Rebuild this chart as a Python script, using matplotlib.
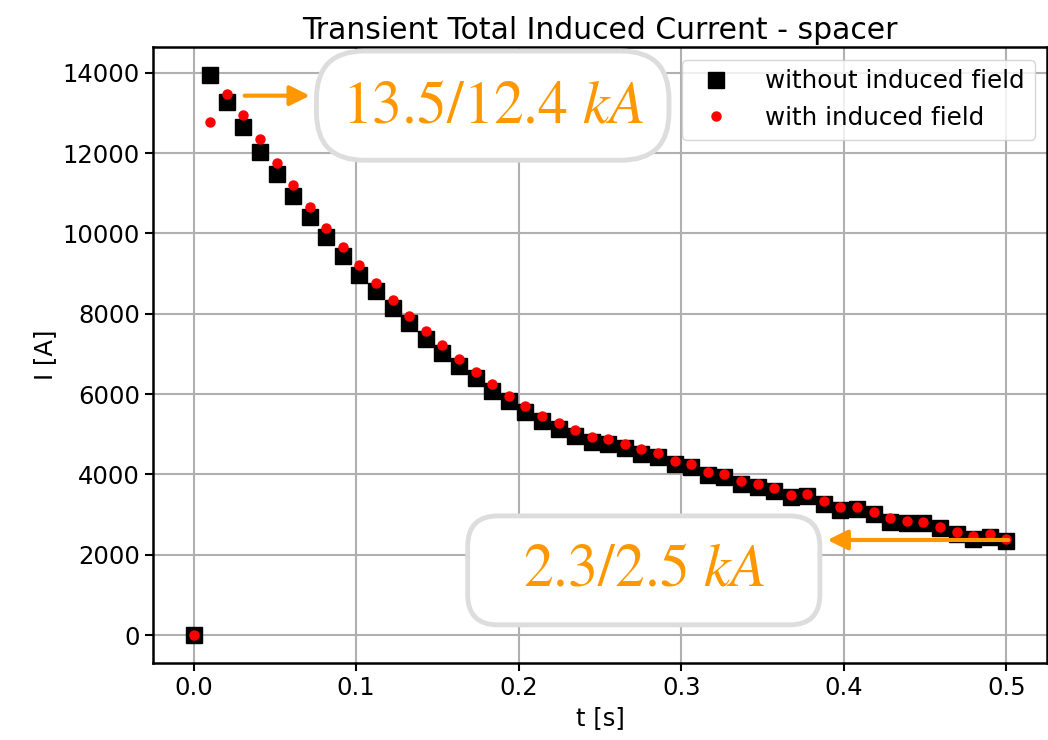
import numpy as np
import matplotlib
matplotlib.use("Agg")
import matplotlib.pyplot as plt
from matplotlib.patches import FancyBboxPatch

# time axis: 50 samples over half a second
t = np.linspace(0, 0.5, 50)

# total induced current [A], spacer model
I_without = [0, 13934, 13270, 12648, 12025, 11485, 10929, 10400, 9907, 9425,
             8976, 8553, 8139, 7765, 7374, 7025, 6709, 6390, 6087, 5838,
             5564, 5323, 5132, 4965, 4816, 4758, 4651, 4509, 4426, 4260,
             4177, 3986, 3928, 3762, 3679, 3595, 3430, 3455, 3264, 3122,
             3139, 3015, 2823, 2790, 2782, 2658, 2516, 2392, 2433, 2350]
I_with = [0, 12773, 13460, 12955, 12357, 11759, 11211, 10655, 10143, 9659,
          9218, 8769, 8340, 7955, 7578, 7225, 6860, 6560, 6253, 5963,
          5690, 5455, 5274, 5095, 4920, 4875, 4765, 4634, 4526, 4340,
          4255, 4069, 4005, 3840, 3765, 3670, 3495, 3500, 3346, 3196,
          3196, 3072, 2915, 2832, 2807, 2699, 2574, 2459, 2516, 2392]

peak_label = r"$13.5/12.4\ kA$"
end_label = r"$2.3/2.5\ kA$"

plt.rcParams["mathtext.fontset"] = "stix"
plt.rcParams["font.size"] = 17.5

orange = "#ff9800"
edge = "#dddddd"

fig = plt.figure(figsize=(10.48, 7.4), dpi=100)
ax = fig.add_axes([0.146, 0.104, 0.853, 0.832])

ax.plot(t, I_without, "ks", ms=12, label="without induced field")
ax.plot(t, I_with, "ro", ms=6.5, label="with induced field")

ax.set_title("Transient Total Induced Current - spacer", fontsize=21.5)
ax.set_xlabel("t [s]")
ax.set_ylabel("I [A]")
ax.grid(True, color="#b0b0b0", lw=1.5)
ax.set_axisbelow(True)
for s in ax.spines.values():
    s.set_linewidth(1.8)
ax.tick_params(width=1.5, length=6)

ax.legend(loc="upper right", fontsize=17.7, framealpha=0.8, borderpad=0.4,
          handletextpad=1.0, bbox_to_anchor=(1.0, 1.0))

# peak annotation, box sized by the text
box = dict(boxstyle="round,pad=0.42,rounding_size=0.8", fc="white",
           ec=edge, lw=3.5)
ax.text(0.184, 13180, peak_label, fontsize=43, color=orange,
        ha="center", va="center", bbox=box, zorder=5)

# end annotation sits in a wider box, drawn in axes fraction
aspect = ax.bbox.width / ax.bbox.height
ax.add_patch(FancyBboxPatch((0.352, 0.062), 0.394, 0.177,
                            boxstyle="round,pad=0,rounding_size=0.034",
                            mutation_aspect=aspect, transform=ax.transAxes,
                            fc="white", ec=edge, lw=3.5, zorder=5))
ax.text(0.2774, 1632, end_label, fontsize=43, color=orange,
        ha="center", va="center", zorder=6)

arrow = dict(arrowstyle="-|>", color=orange, lw=3, mutation_scale=30,
             shrinkA=0, shrinkB=0)
ax.annotate("", xy=(0.0715, 13428), xytext=(0.0314, 13428),
            arrowprops=arrow, zorder=6)
ax.annotate("", xy=(0.3900, 2367), xytext=(0.5012, 2367),
            arrowprops=arrow, zorder=6)

fig.savefig("out.png", dpi=100)
